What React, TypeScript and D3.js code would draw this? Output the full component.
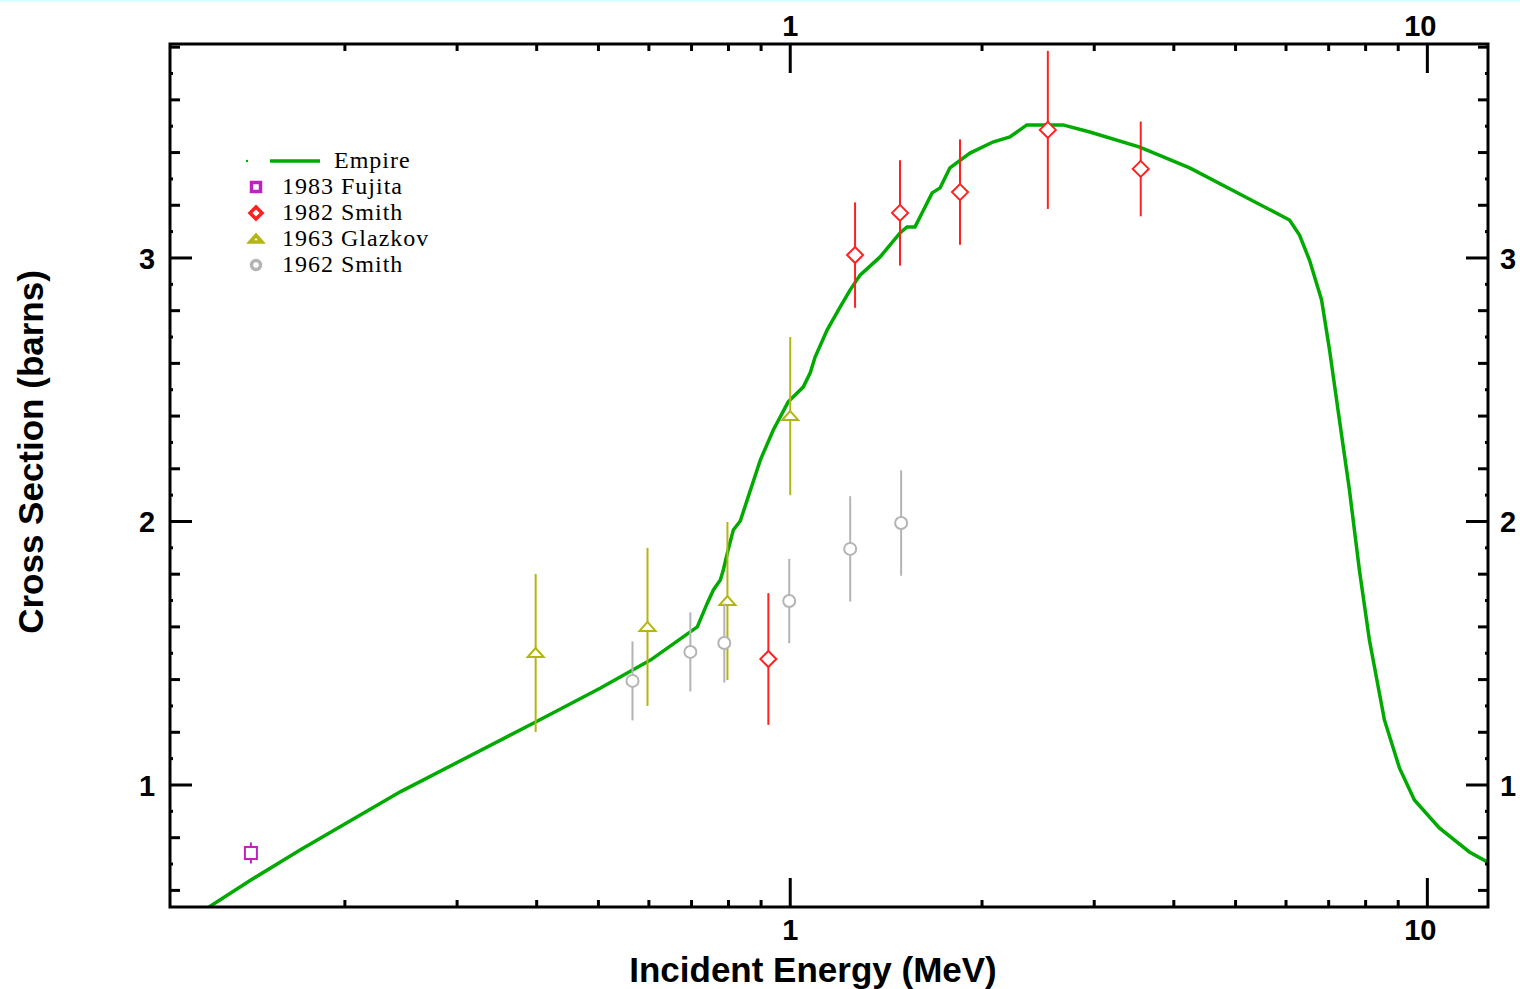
import React, { useEffect } from "react";
import * as d3 from "d3";

// Empire calculation (energy MeV, cross section barns)
const empireE = [0.1224, 0.1424, 0.1706, 0.2447, 0.3985, 0.5038, 0.6034, 0.7147, 0.7413, 0.7575, 0.7767, 0.7852, 0.7966, 0.8142, 0.8348, 0.8975, 0.9406, 0.9928, 1.048, 1.075, 1.094, 1.143, 1.198, 1.242, 1.287, 1.384, 1.487, 1.525, 1.57, 1.61, 1.67, 1.719, 1.781, 1.915, 2.08, 2.212, 2.352, 2.679, 2.953, 3.537, 4.236, 6.077, 6.3, 6.531, 6.823, 7.022, 7.278, 7.545, 7.822, 8.11, 8.562, 9.04, 9.542, 10.44, 11.64, 12.42];
const empireS = [0.537, 0.6395, 0.755, 0.975, 1.239, 1.368, 1.474, 1.6, 1.691, 1.74, 1.778, 1.816, 1.88, 1.968, 2.002, 2.233, 2.347, 2.454, 2.51, 2.564, 2.624, 2.727, 2.814, 2.879, 2.935, 3.004, 3.095, 3.118, 3.118, 3.171, 3.247, 3.266, 3.342, 3.398, 3.44, 3.459, 3.505, 3.505, 3.478, 3.421, 3.342, 3.144, 3.087, 2.992, 2.841, 2.651, 2.385, 2.12, 1.816, 1.55, 1.247, 1.065, 0.943, 0.837, 0.746, 0.708];

const fujitaE = [0.1424];
const fujitaS = [0.742];
const fujitaErr = [0.04];

const smith82E = [0.924, 1.264, 1.487, 1.847, 2.537, 3.549];
const smith82S = [1.478, 3.011, 3.171, 3.25, 3.486, 3.338];
const smith82Err = [0.25, 0.2, 0.2, 0.2, 0.3, 0.18];

const glazkovE = [0.3985, 0.597, 0.797, 1.0];
const glazkovS = [1.501, 1.6, 1.698, 2.4];
const glazkovErr = [0.3, 0.3, 0.3, 0.3];

const smith62E = [0.5655, 0.697, 0.788, 0.9964, 1.242, 1.493];
const smith62S = [1.395, 1.505, 1.539, 1.698, 1.896, 1.994];
const smith62Err = [0.15, 0.15, 0.15, 0.16, 0.2, 0.2];

const legendLabels = ["Empire", "1983 Fujita", "1982 Smith", "1963 Glazkov", "1962 Smith"];
const xMajorTicks = [1, 10];
const yMajorTicks = [1, 2, 3];

const GREEN = "#00aa00";
const MAGENTA = "#c020c0";
const RED = "#ff2020";
const OLIVE = "#b4b414";
const GRAY = "#b4b4b4";

const W = 1520, H = 989;
const L = 170, R = 1488, T = 44, B = 907;

type Shape = "square" | "diamond" | "triangle" | "circle";

function Marker({ x, y, shape, color, legend }: { x: number; y: number; shape: Shape; color: string; legend?: boolean }) {
  const sw = legend ? 3.5 : 2;
  const k = legend ? 0.75 : 1;
  if (shape === "square") return <rect x={x - 6 * k} y={y - 6 * k} width={12 * k} height={12 * k} fill="white" stroke={color} strokeWidth={sw} />;
  if (shape === "diamond") return <path d={`M${x},${y - 8 * k}L${x + 8 * k},${y}L${x},${y + 8 * k}L${x - 8 * k},${y}Z`} fill="white" stroke={color} strokeWidth={sw} />;
  if (shape === "triangle") return <path d={`M${x},${y - 5 * k}L${x + 8 * k},${y + 4 * k}L${x - 8 * k},${y + 4 * k}Z`} fill="white" stroke={color} strokeWidth={sw} />;
  return <circle cx={x} cy={y} r={6 * k} fill="white" stroke={color} strokeWidth={sw} />;
}

export default function App() {
  useEffect(() => {
    document.body.style.margin = "0";
  }, []);

  const x = d3.scaleLog().domain([0.1063, 12.45]).range([L, R]);
  const y = d3.scaleLinear().domain([0.537, 3.812]).range([B, T]);

  const line = d3
    .line<number>()
    .x((_, i) => x(empireE[i]))
    .y((_, i) => y(empireS[i]));

  const clipId = "plotclip";

  const series: { E: number[]; S: number[]; Err: number[]; shape: Shape; color: string }[] = [
    { E: fujitaE, S: fujitaS, Err: fujitaErr, shape: "square", color: MAGENTA },
    { E: smith82E, S: smith82S, Err: smith82Err, shape: "diamond", color: RED },
    { E: glazkovE, S: glazkovS, Err: glazkovErr, shape: "triangle", color: OLIVE },
    { E: smith62E, S: smith62S, Err: smith62Err, shape: "circle", color: GRAY },
  ];

  const xMinor: number[] = [];
  for (const dec of [0.1, 1, 10]) {
    for (let k = 2; k <= 9; k++) {
      const v = dec * k;
      if (v > 0.1063 && v < 12.45) xMinor.push(v);
    }
  }
  const yMed: number[] = [];
  const yDot: number[] = [];
  for (let i = 6; i <= 38; i++) {
    const v = i / 10;
    if (i % 10 === 0) continue;
    if (i % 2 === 0) yMed.push(v);
    else yDot.push(v);
  }

  const tickFont = "'Liberation Sans', Arial, sans-serif";
  const xLabelShift = (v: number) => (v >= 10 ? -7 : 0);

  return (
    <svg width={W} height={H} style={{ display: "block", background: "white" }}>
      <rect x={0} y={0} width={W} height={2} fill="#d8ffff" />
      <defs>
        <clipPath id={clipId}>
          <rect x={L} y={T} width={R - L} height={B - T} />
        </clipPath>
      </defs>

      <path d={line(empireE) || ""} fill="none" stroke={GREEN} strokeWidth={3.5} clipPath={`url(#${clipId})`} />

      {series.map((s, si) => (
        <g key={si}>
          {s.E.map((e, i) => (
            <line key={"e" + i} x1={x(e)} x2={x(e)} y1={y(s.S[i] - s.Err[i])} y2={y(s.S[i] + s.Err[i])} stroke={s.color} strokeWidth={2} />
          ))}
          {s.E.map((e, i) => (
            <Marker key={"m" + i} x={x(e)} y={y(s.S[i])} shape={s.shape} color={s.color} />
          ))}
        </g>
      ))}

      <rect x={L} y={T} width={R - L} height={B - T} fill="none" stroke="black" strokeWidth={3} />

      {xMajorTicks.map((v) => (
        <g key={"xm" + v}>
          <line x1={x(v)} x2={x(v)} y1={T} y2={T + 29} stroke="black" strokeWidth={3} />
          <line x1={x(v)} x2={x(v)} y1={B} y2={B - 29} stroke="black" strokeWidth={3} />
          <text x={x(v) + xLabelShift(v)} y={36} textAnchor="middle" fontFamily={tickFont} fontWeight="bold" fontSize={29}>{v}</text>
          <text x={x(v) + xLabelShift(v)} y={940} textAnchor="middle" fontFamily={tickFont} fontWeight="bold" fontSize={29}>{v}</text>
        </g>
      ))}
      {xMinor.map((v) => (
        <g key={"xn" + v}>
          <line x1={x(v)} x2={x(v)} y1={T} y2={T + 7} stroke="black" strokeWidth={3} />
          <line x1={x(v)} x2={x(v)} y1={B} y2={B - 7} stroke="black" strokeWidth={3} />
        </g>
      ))}

      {yMajorTicks.map((v) => (
        <g key={"ym" + v}>
          <line x1={L} x2={L + 22} y1={y(v)} y2={y(v)} stroke="black" strokeWidth={3} />
          <line x1={R} x2={R - 22} y1={y(v)} y2={y(v)} stroke="black" strokeWidth={3} />
          <text x={147} y={y(v) + 11} textAnchor="middle" fontFamily={tickFont} fontWeight="bold" fontSize={29}>{v}</text>
          <text x={1508} y={y(v) + 11} textAnchor="middle" fontFamily={tickFont} fontWeight="bold" fontSize={29}>{v}</text>
        </g>
      ))}
      {yMed.map((v) => (
        <g key={"yd" + v}>
          <line x1={L} x2={L + 10} y1={y(v)} y2={y(v)} stroke="black" strokeWidth={3} />
          <line x1={R} x2={R - 10} y1={y(v)} y2={y(v)} stroke="black" strokeWidth={3} />
        </g>
      ))}
      {yDot.map((v) => (
        <g key={"yo" + v}>
          <line x1={L} x2={L + 3} y1={y(v)} y2={y(v)} stroke="black" strokeWidth={3} />
          <line x1={R} x2={R - 3} y1={y(v)} y2={y(v)} stroke="black" strokeWidth={3} />
        </g>
      ))}

      <text x={813} y={982} textAnchor="middle" fontFamily={tickFont} fontWeight="bold" fontSize={35}>Incident Energy (MeV)</text>
      <text transform={`translate(43,452) rotate(-90)`} textAnchor="middle" fontFamily={tickFont} fontWeight="bold" fontSize={35}>Cross Section (barns)</text>

      <g fontFamily="'Liberation Serif', 'Times New Roman', serif" fontSize={24} letterSpacing={1}>
        <circle cx={247} cy={161} r={1.2} fill={GREEN} />
        <line x1={270} x2={320} y1={161} y2={161} stroke={GREEN} strokeWidth={3.5} />
        <text x={334} y={168}>{legendLabels[0]}</text>
        {series.map((s, i) => (
          <g key={"lg" + i}>
            <Marker x={256} y={187 + 26 * i} shape={s.shape} color={s.color} legend />
            <text x={282} y={194 + 26 * i}>{legendLabels[i + 1]}</text>
          </g>
        ))}
      </g>
    </svg>
  );
}
